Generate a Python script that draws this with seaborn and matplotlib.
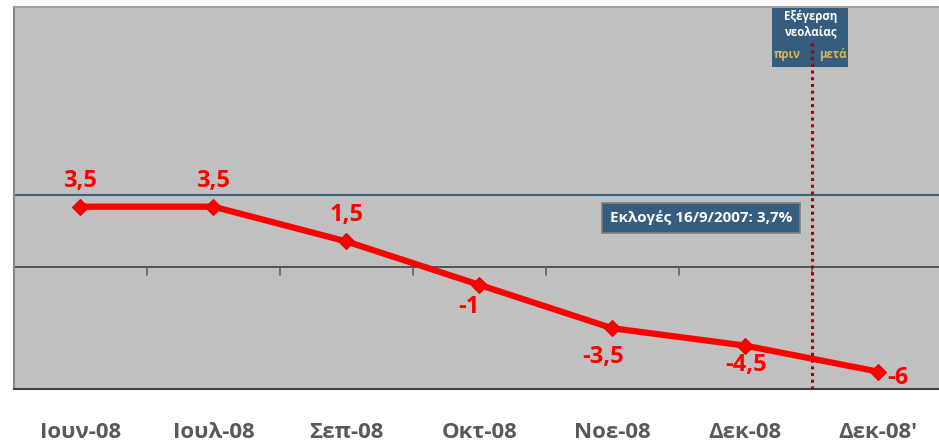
import matplotlib
matplotlib.use("Agg")
import matplotlib.pyplot as plt
import seaborn as sns
import pandas as pd

months = ["Ιουν-08", "Ιουλ-08", "Σεπ-08", "Οκτ-08", "Νοε-08", "Δεκ-08", "Δεκ-08'"]
values = [3.5, 3.5, 1.5, -1, -3.5, -4.5, -6]
labels = ["3,5", "3,5", "1,5", "-1", "-3,5", "-4,5", "-6"]
election_level = 4.2
election_text = "Εκλογές 16/9/2007: 3,7%"
event_pos = 5.5

# label offsets in pixels (dx, dy)
offsets = [(0, 26), (0, 26), (0, 26), (-10, -22), (-9, -29), (1, -19), (20, -6)]

df = pd.DataFrame({"month": months, "value": values, "x": range(len(months))})

sns.set_style("white")
plt.rcParams["font.family"] = ["Open Sans", "DejaVu Sans"]

W, H = 939, 445
fig = plt.figure(figsize=(W / 100, H / 100), dpi=100)
ax = fig.add_axes([14 / W, (H - 389) / H, (944.5 - 14) / W, (389 - 7) / H])
ax.set_facecolor("#c0c0c0")

ax.axhline(election_level, color="#3b6284", lw=1.5, zorder=2)
ax.axhline(0, color="#404040", lw=1.2, zorder=2)
for b in range(len(months) - 1):
    ax.plot([b + 0.5, b + 0.5], [0, -0.42], color="#606060", lw=1.2, zorder=2)

ax.plot([event_pos, event_pos], [-7, 12.9], color="#b00000", lw=2.2,
        ls=(0, (1, 1.2)), zorder=6)

sns.lineplot(data=df, x="x", y="value", ax=ax, color="#ff0000", lw=4.5,
             marker="D", markersize=8, markeredgecolor="#e00000", zorder=4)

for i, (v, lab) in enumerate(zip(values, labels)):
    dx, dy = offsets[i]
    ax.annotate(lab, (i, v), xytext=(dx * 0.72, dy * 0.72), textcoords="offset points",
                ha="center", va="center", color="#ff0000", fontsize=17, fontweight="bold")

ax.text(4.67, 2.85, election_text, ha="center", va="center", color="white",
        fontsize=11, fontweight="bold",
        bbox=dict(boxstyle="square,pad=0.5", fc="#365c7e", ec="#808080", lw=1.2), zorder=5)

# event box at top
ax.add_patch(plt.Rectangle((5.205, 11.55), 0.57, 3.45, fc="#365c7e", ec="none", zorder=5))
ax.text(5.49, 14.0, "Εξέγερση\nνεολαίας", ha="center", va="center", color="white",
        fontsize=8.3, fontweight="bold", linespacing=1.25, zorder=6)
ax.text(5.32, 12.25, "πριν", ha="center", va="center", color="#d9b65a", fontsize=8.3,
        fontweight="bold", zorder=6)
ax.text(5.66, 12.25, "μετά", ha="center", va="center", color="#d9b65a", fontsize=8.3,
        fontweight="bold", zorder=6)

ax.set_xlim(-0.5, 6.5)
ax.set_ylim(-7, 15)
ax.set_xticks(range(len(months)))
ax.set_xticklabels(months, fontsize=16, fontweight="bold", color="#595959")
ax.tick_params(axis="x", length=0, pad=24)
ax.set_yticks([])
ax.set_xlabel("")
ax.set_ylabel("")
for s in ["top", "right"]:
    ax.spines[s].set_visible(False)
ax.spines["left"].set_color("#888888")
ax.spines["left"].set_linewidth(1.5)
ax.spines["bottom"].set_color("#404040")
ax.spines["bottom"].set_linewidth(1.5)

fig.add_artist(plt.Line2D([14 / W, 1], [(H - 7) / H, (H - 7) / H], color="#a0a0a0", lw=1.5))

fig.savefig("out.png", dpi=100)
